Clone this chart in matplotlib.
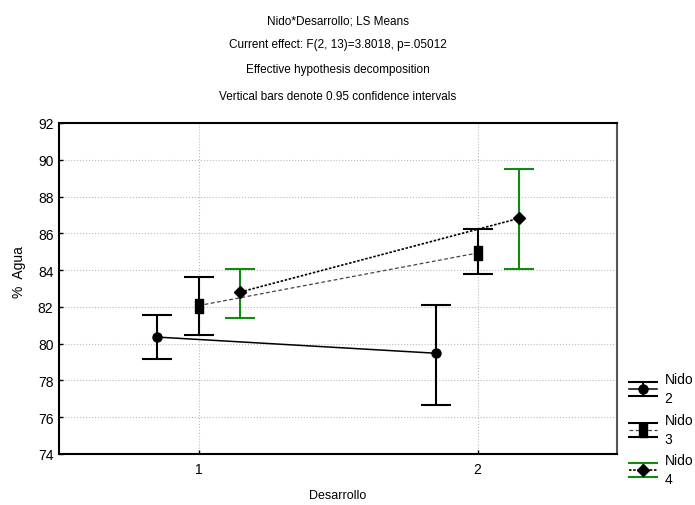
import matplotlib
matplotlib.use('Agg')
import matplotlib.pyplot as plt
import numpy as np

# datos (LS Means, IC 0.95)
desarrollo = [1, 2]
nidos = ['2', '3', '4']
medias = {
    '2': [80.36, 79.48],
    '3': [82.07, 84.93],
    '4': [82.81, 86.82],
}
ic_sup = {
    '2': [81.56, 82.12],
    '3': [83.63, 86.25],
    '4': [84.06, 89.50],
}
ic_inf = {
    '2': [79.17, 76.68],
    '3': [80.47, 83.79],
    '4': [81.40, 84.06],
}
titulos = [
    'Nido*Desarrollo; LS Means',
    'Current effect: F(2, 13)=3.8018, p=.05012',
    'Effective hypothesis decomposition',
    'Vertical bars denote 0.95 confidence intervals',
]

plt.rcParams['font.family'] = ['Liberation Sans', 'DejaVu Sans']

rect = [(-0.64, -1), (0.64, -1), (0.64, 1), (-0.64, 1), (-0.64, -1)]
estilos = {
    '2': dict(ls='-', color='black', lw=1.1, marker='o', ms=6.5, ecolor='black'),
    '3': dict(ls=(0, (3, 2)), color='#444444', lw=0.9, marker=rect, ms=10, ecolor='black'),
    '4': dict(ls=(0, (1.5, 1)), color='black', lw=1.2, marker='D', ms=6, ecolor='#108a10'),
}
desplaz = {'2': -0.15, '3': 0.0, '4': 0.15}

fig = plt.figure(figsize=(6.95, 5.06), dpi=100)
ax = fig.add_axes([59/695, 1-455/506, 558/695, 331/506])

for n in nidos:
    x = np.array(desarrollo) + desplaz[n]
    y = np.array(medias[n])
    err = [y - np.array(ic_inf[n]), np.array(ic_sup[n]) - y]
    st = estilos[n]
    ax.errorbar(x, y, yerr=err, ls=st['ls'], color=st['color'], lw=st['lw'],
                marker=st['marker'], ms=st['ms'], mfc='black', mec='black',
                ecolor=st['ecolor'], elinewidth=1.5, capsize=10.5, capthick=1.5,
                label='Nido\n' + n, zorder=3)

ax.set_xlim(0.5, 2.5)
ax.set_ylim(74, 92)
ax.set_xticks(desarrollo)
ax.set_yticks(np.arange(74, 93, 2))
ax.grid(True, ls=':', color='#bbbbbb', lw=0.8)
ax.set_axisbelow(True)
ax.tick_params(direction='in', length=3, labelsize=10, width=1)
ax.tick_params(axis='x', pad=6)
ax.tick_params(axis='y', pad=4)
for s in ['left', 'bottom', 'top']:
    ax.spines[s].set_linewidth(1.5)
ax.spines['right'].set_linewidth(1.5)
ax.spines['right'].set_color('#555555')

ax.set_xlabel('Desarrollo', fontsize=9, va='center')
ax.set_ylabel('%  Agua', fontsize=10)
ax.xaxis.set_label_coords(0.5, (455 - 496) / 331)
ax.yaxis.set_label_coords((26 - 59) / 558, 0.553)

for t, yy in zip(titulos, [21, 45, 70, 97]):
    fig.text(338/695, 1 - yy/506, t, ha='center', va='center', fontsize=8.5)

leg = ax.legend(loc='upper left', bbox_to_anchor=(629/695, 1 - 373/506),
                bbox_transform=fig.transFigure, frameon=False, fontsize=10,
                handlelength=2.0, handletextpad=0.55, labelspacing=0.55,
                borderpad=0, borderaxespad=0)
for txt in leg.get_texts():
    txt.set_linespacing(1.45)

fig.savefig('out.png', dpi=100)
